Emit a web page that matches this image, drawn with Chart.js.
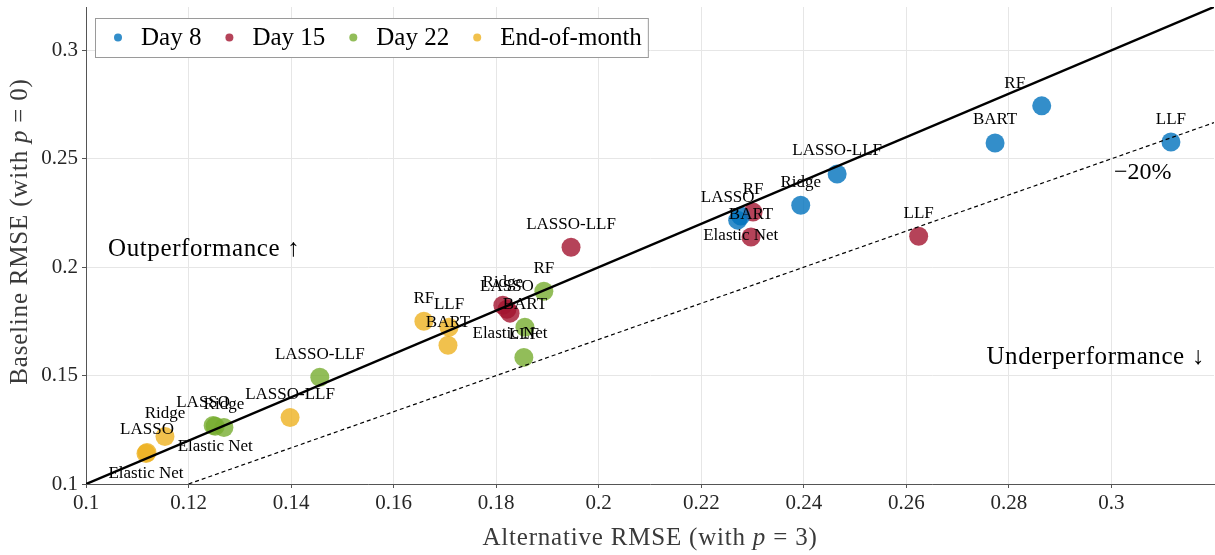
<!DOCTYPE html>
<html>
<head>
<meta charset="utf-8">
<script src="https://cdn.jsdelivr.net/npm/chart.js@4"></script>
<style>
  body { margin: 0; background: #fff; }
  #wrap { width: 1215px; height: 555px; }
</style>
</head>
<body>
<div id="wrap"><canvas id="rmseChart"></canvas></div>
<script>
const METHODS = ['LASSO', 'Ridge', 'Elastic Net', 'RF', 'BART', 'LLF', 'LASSO-LLF'];

// alternative RMSE (x) and baseline RMSE (y), one value per method
const day8Alt = [0.2271, 0.2394, 0.2277, 0.2864, 0.2773, 0.3116, 0.2465];
const day8Base = [0.2217, 0.2286, 0.2236, 0.2744, 0.2573, 0.2577, 0.2430];
const day15Alt = [0.1821, 0.1813, 0.1827, 0.2301, 0.2297, 0.2624, 0.1946];
const day15Base = [0.1806, 0.1824, 0.1788, 0.2254, 0.2139, 0.2143, 0.2092];
const day22Alt = [0.1248, 0.1269, 0.1252, 0.1893, 0.1856, 0.1854, 0.1456];
const day22Base = [0.1270, 0.1261, 0.1266, 0.1889, 0.1723, 0.1584, 0.1492];
const eomAlt = [0.1119, 0.1154, 0.1117, 0.1659, 0.1706, 0.1708, 0.1398];
const eomBase = [0.1145, 0.1219, 0.1141, 0.1751, 0.1640, 0.1723, 0.1307];

const SERIES = ['Day 8', 'Day 15', 'Day 22', 'End-of-month'];
const COLORS = ['rgba(0,114,189,0.8)', 'rgba(162,20,47,0.8)', 'rgba(119,172,48,0.8)', 'rgba(237,177,32,0.8)'];

// reference lines: y = x and y = x / 1.2
const parityLine = [[0.1, 0.1], [0.32, 0.32]];
const minus20Line = [[0.12, 0.1], [0.32, 0.32 / 1.2]];

const X_TICK_STEP = 0.02;
const Y_TICK_STEP = 0.05;
const AXIS_MIN = 0.1;
const AXIS_MAX = 0.32;

const SERIF = '"Liberation Serif", "Times New Roman", serif';

// label nudges in px (default: centred above the marker)
const LABEL_NUDGE = {
    'Day 8|RF': [-27, 1],
    'Day 8|LASSO': [-10, 0],
    'Day 22|LASSO': [-10, 0]
};

function toPoints(xs, ys) {
    return xs.map((x, i) => ({ x: x, y: ys[i] }));
}

const seriesData = [
    toPoints(day8Alt, day8Base),
    toPoints(day15Alt, day15Base),
    toPoints(day22Alt, day22Base),
    toPoints(eomAlt, eomBase)
];

const fmt = v => (v > 0.31 ? '' : String(+v.toFixed(2)));
const gridCol = ctx => (ctx.tick && ctx.tick.value > 0.31 ? 'rgba(0,0,0,0)' : '#e6e6e6');
const tickCol = ctx => (ctx.tick && ctx.tick.value > 0.31 ? 'rgba(0,0,0,0)' : '#555');

function drawMixed(ctx, parts, size) {
    let total = 0;
    parts.forEach(p => {
        ctx.font = (p.i ? 'italic ' : '') + size + 'px ' + SERIF;
        p.w = ctx.measureText(p.t).width;
        total += p.w;
    });
    let x = -total / 2;
    parts.forEach(p => {
        ctx.font = (p.i ? 'italic ' : '') + size + 'px ' + SERIF;
        ctx.fillText(p.t, x, 0);
        x += p.w;
    });
}

const overlayPlugin = {
    id: 'overlay',
    afterDatasetsDraw(chart) {
        const ctx = chart.ctx;
        const xs = chart.scales.x, ys = chart.scales.y;
        const area = chart.chartArea;
        ctx.save();
        ctx.fillStyle = '#000';
        ctx.textAlign = 'center';
        ctx.textBaseline = 'middle';

        // point labels
        ctx.font = '17px ' + SERIF;
        SERIES.forEach((name, s) => {
            seriesData[s].forEach((pt, i) => {
                const m = METHODS[i];
                const nudge = LABEL_NUDGE[name + '|' + m] || [0, 0];
                const dy = m === 'Elastic Net' ? 20 : -23;
                ctx.fillText(m, xs.getPixelForValue(pt.x) + nudge[0], ys.getPixelForValue(pt.y) + dy + nudge[1]);
            });
        });

        // annotations
        ctx.font = '25px ' + SERIF;
        ctx.letterSpacing = '0.6px';
        ctx.textAlign = 'left';
        ctx.fillText('Outperformance \u2191', xs.getPixelForValue(0.1043), ys.getPixelForValue(0.2083));
        ctx.textAlign = 'right';
        ctx.fillText('Underperformance \u2193', xs.getPixelForValue(0.3182), ys.getPixelForValue(0.1584));
        ctx.letterSpacing = '0px';
        ctx.textAlign = 'center';
        ctx.font = '24px ' + SERIF;
        ctx.fillText('\u221220%', xs.getPixelForValue(0.3061), ys.getPixelForValue(0.2434));

        // legend box
        const bx = area.left + 9, by = area.top + 11, bh = 39;
        ctx.font = '25px ' + SERIF;
        let x = bx + 23;
        const items = [];
        SERIES.forEach((name, s) => {
            const w = ctx.measureText(name).width;
            items.push({ dot: x, text: x + 23, w: w, s: s });
            x = x + 23 + w + 28;
        });
        const last = items[items.length - 1];
        const bw = last.text + last.w + 6 - bx;
        ctx.fillStyle = '#fff';
        ctx.fillRect(bx, by, bw, bh);
        ctx.strokeStyle = '#9a9a9a';
        ctx.lineWidth = 1;
        ctx.strokeRect(bx + 0.5, by + 0.5, bw, bh);
        ctx.textAlign = 'left';
        items.forEach(it => {
            ctx.fillStyle = COLORS[it.s];
            ctx.beginPath();
            ctx.arc(it.dot, by + bh / 2, 4, 0, Math.PI * 2);
            ctx.fill();
            ctx.fillStyle = '#000';
            ctx.fillText(SERIES[it.s], it.text, by + bh / 2 + 1);
        });

        // axis titles
        ctx.fillStyle = '#3a3a3a';
        ctx.textBaseline = 'middle';
        ctx.textAlign = 'left';
        ctx.letterSpacing = '0.8px';
        ctx.save();
        ctx.translate((area.left + area.right) / 2, area.bottom + 54);
        drawMixed(ctx, [{ t: 'Alternative RMSE (with ' }, { t: 'p', i: true }, { t: ' = 3)' }], 25);
        ctx.restore();
        ctx.save();
        ctx.translate(area.left - 66, (area.top + area.bottom) / 2 - 14);
        ctx.rotate(-Math.PI / 2);
        drawMixed(ctx, [{ t: 'Baseline RMSE (with ' }, { t: 'p', i: true }, { t: ' = 0)' }], 25);
        ctx.restore();
        ctx.letterSpacing = '0px';
        ctx.restore();
    }
};

const datasets = [
    {
        type: 'line',
        label: 'y = x',
        data: parityLine.map(p => ({ x: p[0], y: p[1] })),
        borderColor: '#000',
        borderWidth: 2.5,
        pointRadius: 0,
        fill: false
    },
    {
        type: 'line',
        label: '-20%',
        data: minus20Line.map(p => ({ x: p[0], y: p[1] })),
        borderColor: '#000',
        borderWidth: 1.2,
        borderDash: [4, 3],
        pointRadius: 0,
        fill: false
    }
];
SERIES.forEach((name, s) => {
    datasets.push({
        type: 'scatter',
        label: name,
        data: seriesData[s],
        backgroundColor: COLORS[s],
        borderWidth: 0,
        pointRadius: 9.5,
        pointHoverRadius: 9.5
    });
});

const rmseChart = new Chart(document.getElementById('rmseChart'), {
    type: 'scatter',
    data: { datasets: datasets },
    options: {
        responsive: true,
        maintainAspectRatio: false,
        animation: false,
        layout: { autoPadding: false, padding: { top: 7, right: 1, left: 0, bottom: 0 } },
        plugins: {
            legend: { display: false },
            tooltip: { enabled: false }
        },
        scales: {
            x: {
                type: 'linear',
                min: AXIS_MIN,
                max: AXIS_MAX,
                afterFit: scale => {
                    scale.height = 71;
                    scale.paddingLeft = 0;
                    scale.paddingRight = 0;
                },
                ticks: {
                    stepSize: X_TICK_STEP,
                    callback: fmt,
                    color: '#262626',
                    padding: 3,
                    maxRotation: 0,
                    autoSkip: false,
                    font: { family: SERIF, size: 21 }
                },
                grid: { color: gridCol, tickColor: tickCol, tickLength: 4 },
                border: { color: '#555', width: 1 }
            },
            y: {
                type: 'linear',
                min: AXIS_MIN,
                max: AXIS_MAX,
                afterFit: scale => {
                    scale.width = 86;
                    scale.paddingTop = 0;
                    scale.paddingBottom = 0;
                },
                ticks: {
                    stepSize: Y_TICK_STEP,
                    callback: fmt,
                    color: '#262626',
                    padding: 4,
                    autoSkip: false,
                    font: { family: SERIF, size: 21 }
                },
                grid: { color: gridCol, tickColor: tickCol, tickLength: 4 },
                border: { color: '#555', width: 1 }
            }
        }
    },
    plugins: [overlayPlugin]
});
</script>
</body>
</html>
